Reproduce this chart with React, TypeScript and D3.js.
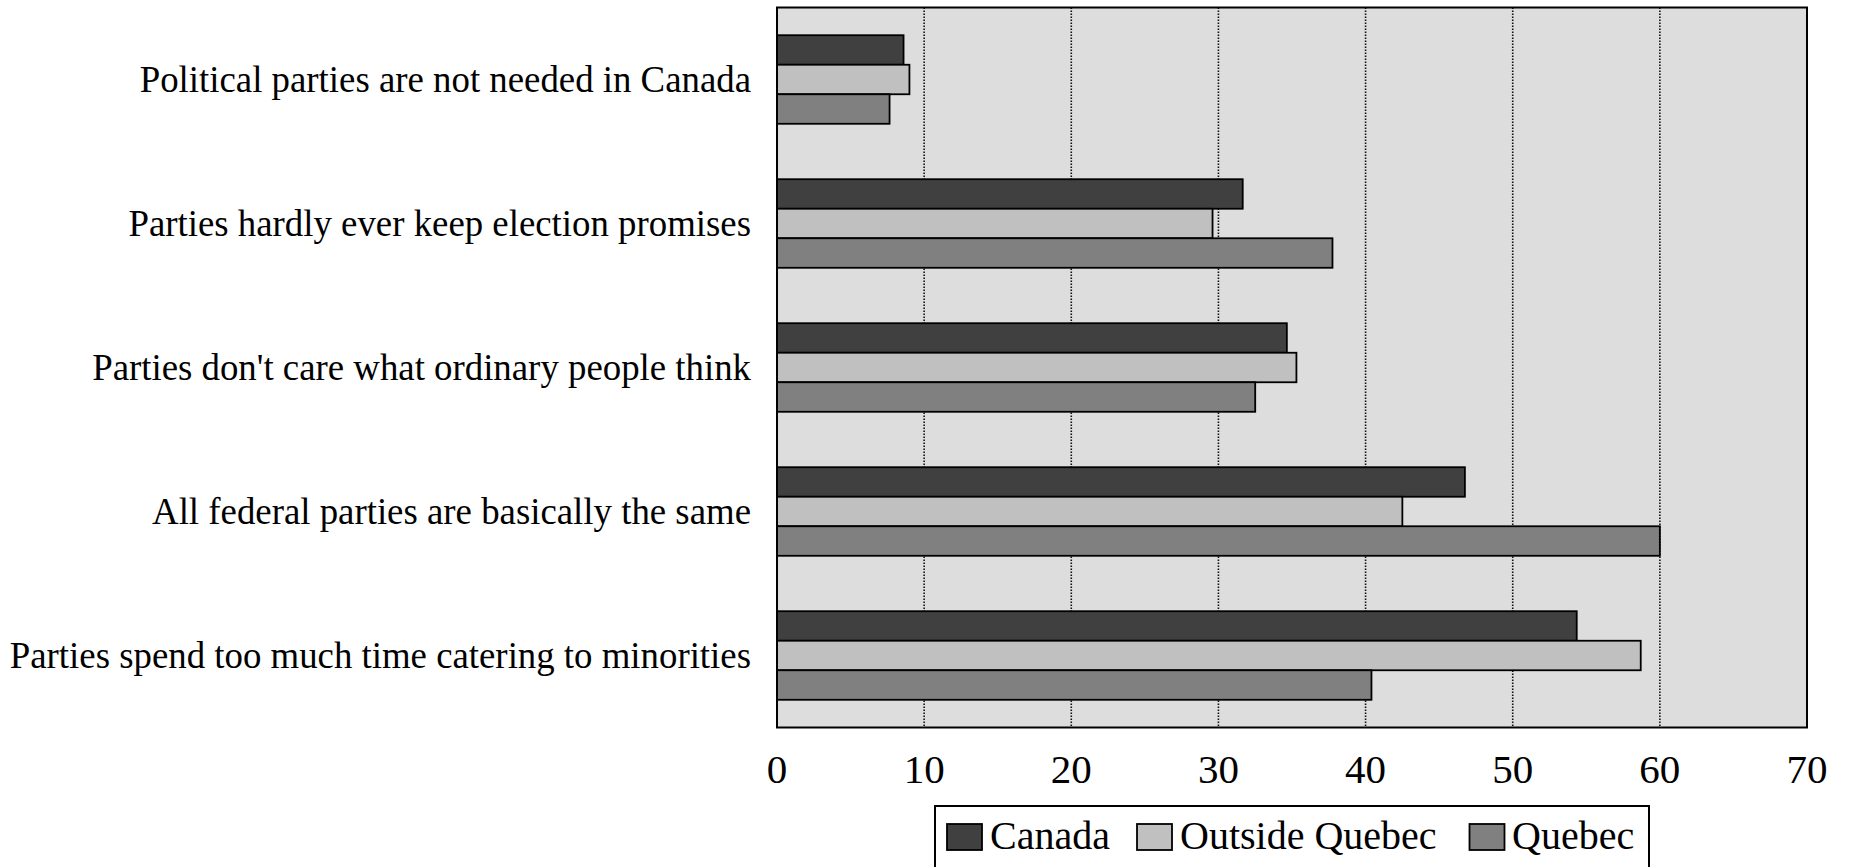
import React from "react";
import * as d3 from "d3";

const categories = [
  "Political parties are not needed in Canada",
  "Parties hardly ever keep election promises",
  "Parties don't care what ordinary people think",
  "All federal parties are basically the same",
  "Parties spend too much time catering to minorities",
];
const seriesNames = ["Canada", "Outside Quebec", "Quebec"];
const canada = [8.6, 31.65, 34.65, 46.75, 54.35];
const outsideQuebec = [9.0, 29.6, 35.3, 42.5, 58.7];
const quebec = [7.65, 37.75, 32.5, 60.0, 40.4];
const xTicks = [0, 10, 20, 30, 40, 50, 60, 70];

const colors = ["#404040", "#c0c0c0", "#808080"];
const seriesValues = [canada, outsideQuebec, quebec];

const W = 1849;
const H = 867;
const plot = { left: 777, right: 1807, top: 7.5, bottom: 727.5 };
const FONT = "'Liberation Serif', 'Times New Roman', serif";

export default function App() {
  const x = d3.scaleLinear().domain([0, 70]).range([plot.left, plot.right]);
  const y = d3
    .scaleBand<string>()
    .domain(categories)
    .range([plot.top, plot.bottom])
    .paddingInner(0.385)
    .paddingOuter(0.1925);
  const ys = d3.scaleBand<string>().domain(seriesNames).range([0, y.bandwidth()]).padding(0);

  const legendItems = [
    { name: "Canada", sx: 947, tx: 990 },
    { name: "Outside Quebec", sx: 1137, tx: 1180 },
    { name: "Quebec", sx: 1469.5, tx: 1512 },
  ];

  return (
    <svg width={W} height={H} style={{ position: "absolute", left: 0, top: 0 }} fontFamily={FONT}>
      <rect x={0} y={0} width={W} height={H} fill="#ffffff" />
      <rect x={plot.left} y={plot.top} width={plot.right - plot.left} height={plot.bottom - plot.top} fill="#dddddd" />
      {xTicks.slice(1, -1).map((t) => (
        <line
          key={t}
          x1={x(t)}
          x2={x(t)}
          y1={plot.top}
          y2={plot.bottom}
          stroke="#111"
          strokeWidth={1.6}
          strokeDasharray="1.6,1.4"
        />
      ))}
      {categories.map((c, i) => (
        <g key={c}>
          {seriesNames.map((s, j) => (
            <rect
              key={s}
              x={x(0)}
              y={(y(c) as number) + (ys(s) as number)}
              width={x(seriesValues[j][i]) - x(0)}
              height={ys.bandwidth()}
              fill={colors[j]}
              stroke="#000"
              strokeWidth={1.8}
            />
          ))}
          <text
            transform={`translate(751,${(y(c) as number) + y.bandwidth() / 2 + 12.5}) scale(0.969,1)`}
            textAnchor="end"
            fontSize={38}
            fill="#000"
          >
            {c}
          </text>
        </g>
      ))}
      <rect
        x={plot.left}
        y={plot.top}
        width={plot.right - plot.left}
        height={plot.bottom - plot.top}
        fill="none"
        stroke="#000"
        strokeWidth={2}
      />
      {xTicks.map((t) => (
        <text key={t} x={x(t)} y={782.5} textAnchor="middle" fontSize={41} fill="#000">
          {t}
        </text>
      ))}
      <rect x={935} y={806} width={714} height={62} fill="#fff" stroke="#000" strokeWidth={2} />
      {legendItems.map((it, j) => (
        <g key={it.name}>
          <rect x={it.sx} y={824} width={35} height={26} fill={colors[j]} stroke="#000" strokeWidth={1.8} />
          <text x={it.tx} y={849} fontSize={40} fill="#000">
            {it.name}
          </text>
        </g>
      ))}
    </svg>
  );
}
